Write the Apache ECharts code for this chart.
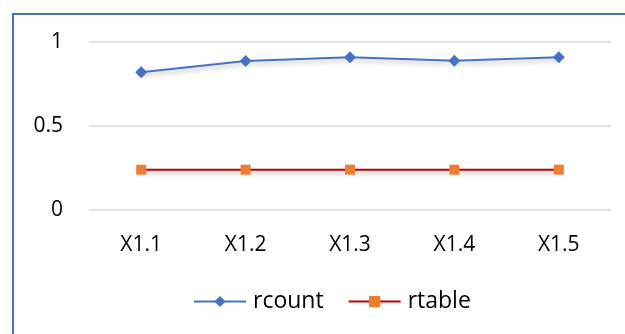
<!DOCTYPE html>
<html><head><meta charset="utf-8">
<script src="https://cdn.jsdelivr.net/npm/echarts@6/dist/echarts.min.js"></script>
<style>html,body{margin:0;padding:0;background:#fff}#c{width:625px;height:334px}</style>
</head><body><div id="c"></div>
<script>
var categories = ['X1.1','X1.2','X1.3','X1.4','X1.5'];
var rcount = [0.82, 0.887, 0.909, 0.889, 0.909];
var rtable = [0.24, 0.24, 0.24, 0.24, 0.24];
var yTicks = [0, 0.5, 1];

var font = '"Open Sans", "DejaVu Sans", sans-serif';
var chart = echarts.init(document.getElementById('c'), null, {renderer:'canvas'});
chart.setOption({
  animation:false,
  graphic:[{type:'rect', shape:{x:13,y:14,width:640,height:340}, style:{fill:'none', stroke:'#4472C4', lineWidth:2}}],
  grid:{left:89, right:14, top:42, height:168},
  xAxis:{type:'category', data:categories, boundaryGap:true,
    axisLine:{show:false}, axisTick:{show:false},
    axisLabel:{color:'#000', fontSize:21, fontFamily:font, margin:25}},
  yAxis:{type:'value', min:0, max:1, interval:0.5,
    axisLine:{show:false}, axisTick:{show:false},
    splitLine:{lineStyle:{color:'#d9d9d9', width:1.5}},
    axisLabel:{color:'#000', fontSize:21, fontFamily:font, margin:26,
      formatter:function(v){ return yTicks.indexOf(v)>=0 ? String(v) : ''; }}},
  legend:{top:285, left:188, itemWidth:52, itemHeight:14, itemGap:24,
    textStyle:{color:'#000', fontSize:23, fontFamily:font, padding:[0,0,0,2]},
    data:[{name:'rcount'},{name:'rtable'}]},
  series:[
    {name:'rcount', type:'line', data:rcount, symbol:'diamond', symbolSize:12,
     lineStyle:{color:'#4472C4', width:2, shadowColor:'rgba(0,0,0,0.25)', shadowBlur:4, shadowOffsetY:3},
     itemStyle:{color:'#4472C4'}},
    {name:'rtable', type:'line', data:rtable, symbol:'rect', symbolSize:10,
     lineStyle:{color:'#C00000', width:2, shadowColor:'rgba(0,0,0,0.25)', shadowBlur:4, shadowOffsetY:3},
     itemStyle:{color:'#ED7D31'}}
  ]
});
</script></body></html>
